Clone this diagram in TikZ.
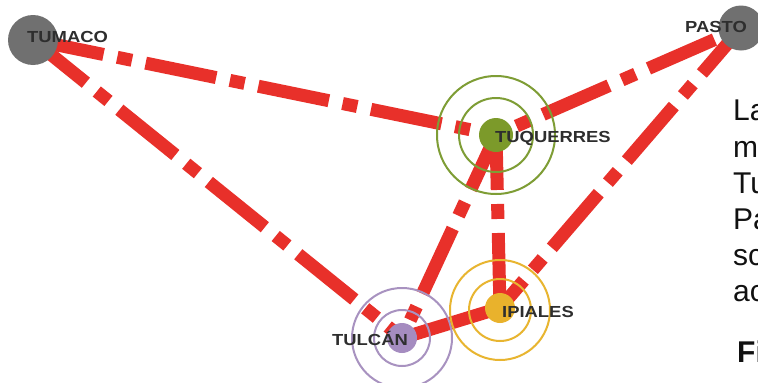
\documentclass[tikz,border=0pt]{standalone}
\usepackage{fontspec}
\setmainfont{Liberation Sans}
\newfontfamily\lblfont[FakeStretch=1.15]{Liberation Sans}
\definecolor{linered}{HTML}{E8302A}
\definecolor{citygray}{HTML}{707070}
\definecolor{citygreen}{HTML}{7C9A2A}
\definecolor{ringgreen}{HTML}{7E9D35}
\definecolor{citypurple}{HTML}{A58CC0}
\definecolor{ringpurple}{HTML}{A892C0}
\definecolor{cityyellow}{HTML}{E9B22C}
\definecolor{ringyellow}{HTML}{E8B530}
\definecolor{labelgray}{HTML}{2E2E2E}
\definecolor{paratext}{HTML}{111111}
\begin{document}
\begin{tikzpicture}[x=1pt,y=-1pt,
  road/.style={line width=13pt, draw=linered},
  dashdot/.style={road, dash pattern=on 72pt off 14pt on 15pt off 14pt},
  city/.style={circle, inner sep=0pt, minimum size=#1},
  ring/.style={line width=2pt},
  lbl/.style={anchor=base west, inner sep=0pt, text=labelgray, font=\lblfont\bfseries\fontsize{16}{16}\selectfont},
  para/.style={anchor=base west, inner sep=0pt, text=paratext, font=\fontsize{30}{30}\selectfont}
]
\useasboundingbox (0,0) rectangle (758,383);
\clip (0,0) rectangle (758,383);
\fill[white] (0,0) rectangle (758,383);
% centres
\coordinate (tum) at (33,40);
\coordinate (pas) at (741,28);
\coordinate (tuq) at (496,135);
\coordinate (tul) at (402,338);
\coordinate (ipi) at (500,308);
% connectors
\draw[dashdot] (tum) -- (tuq);
\draw[dashdot, dash phase=4pt] (tum) -- (tul);
\draw[dashdot, dash phase=86pt] (pas) -- (tuq);
\draw[dashdot, dash phase=12pt] (pas) -- (ipi);
\draw[dashdot, dash phase=12pt] (tuq) -- (tul);
\draw[dashdot, dash phase=17pt] (tuq) -- (ipi);
\draw[road] (tul) -- (ipi);
% rings
\draw[ring, ringgreen] (tuq) circle (37) (tuq) circle (59);
\draw[ring, ringpurple] (tul) circle (28) (tul) circle (50);
\draw[ring, ringyellow] (500,310) circle (31) (500,310) circle (50);
% city dots
\node[city=50pt, fill=citygray] (TUM) at (tum) {};
\node[city=45pt, fill=citygray] (PAS) at (pas) {};
\node[city=34pt, fill=citygreen] (TUQ) at (tuq) {};
\node[city=30pt, fill=citypurple] (TUL) at (tul) {};
\node[city=30pt, fill=cityyellow] (IPI) at (ipi) {};
% labels
\node[lbl] (lTUM) at (27,42) {TUMACO};
\node[lbl] (lPAS) at (685,32) {PASTO};
\node[lbl] (lTUQ) at (495,142) {TUQUERRES};
\node[lbl] (lIPI) at (502,317) {IPIALES};
\node[lbl] (lTUL) at (332,345) {TULCÁN};
% cut-off paragraph text
\node[para] (p1) at (733,120) {La};
\node[para] (p2) at (733,157) {m};
\node[para] (p3) at (733,193) {Tu};
\node[para] (p4) at (733,229) {Pa};
\node[para] (p5) at (733,265) {sc};
\node[para] (p6) at (733,301) {ac};
\node[para, font=\bfseries\fontsize{30}{30}\selectfont] (p7) at (737,362) {Fi};
\end{tikzpicture}
\end{document}
